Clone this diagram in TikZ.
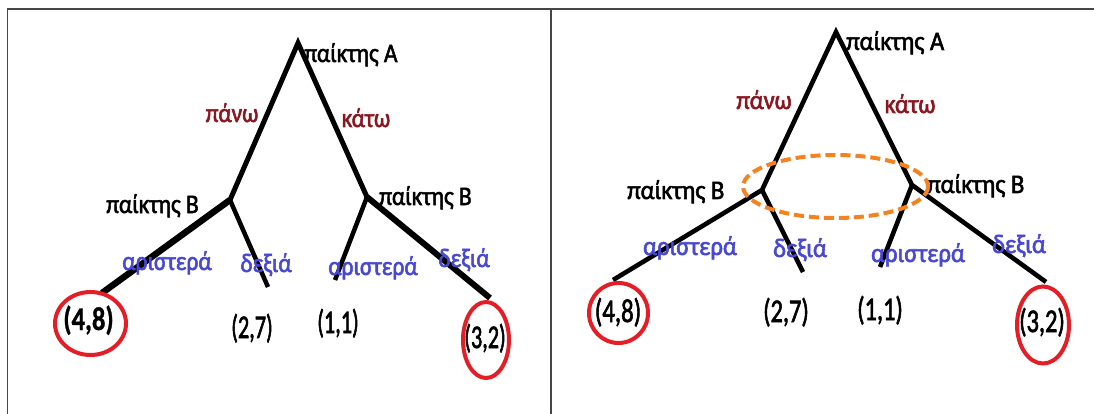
\documentclass[tikz,border=0pt]{standalone}
\usepackage{fontspec}
\setmainfont{Carlito}
\newfontfamily\lbl{Carlito}[FakeBold=2.2]
\newfontfamily\lblbold{Carlito Bold}[FakeBold=1]
\definecolor{movered}{RGB}{140,22,32}
\definecolor{moveblue}{RGB}{72,72,210}
\definecolor{ringred}{RGB}{228,30,38}
\definecolor{setorange}{RGB}{245,130,32}
\definecolor{framegray}{RGB}{70,70,70}
\tikzset{
  branch/.style={line width=5pt, black},
  txt/.style={inner sep=0pt, xscale=0.92, yscale=1.05, font=\fontsize{25.5}{25.5}\lbl},
  playerlbl/.style={txt, anchor=base west},
  toplbl/.style={txt, anchor=base, text=movered},
  botlbl/.style={txt, anchor=base, text=moveblue},
  payoff/.style={anchor=base, inner sep=0pt, xscale=0.74, yscale=1.1, font=\fontsize{30}{30}\lbl},
  ring/.style={draw=ringred, line width=4pt},
  infoset/.style={draw=setorange, line width=4pt, dash pattern=on 10pt off 5pt},
}
\begin{document}
\begin{tikzpicture}[x=1pt,y=-1pt]
\useasboundingbox (0,0) rectangle (1094,414);
% table frame
\draw[framegray, line width=1.8pt] (7.5,414) -- (7.5,9.3) -- (1094,9.3);
\draw[framegray, line width=1.8pt] (551,9.3) -- (551,414);

% ---------------- left tree ----------------
\coordinate (LA) at (298,43);
\coordinate (LB1) at (230,200);
\coordinate (LB2) at (367,197);
\coordinate (L11) at (102,293);
\coordinate (L12) at (268,287);
\coordinate (L21) at (335,280);
\coordinate (L22) at (490,298);
\draw[branch] (LB1) -- (LA) -- (LB2);
\draw[branch, line width=6.5pt] (LB1) -- (L11);
\draw[branch, line width=4.5pt] (LB1) -- (L12);
\draw[branch, line width=4.5pt] (LB2) -- (L21);
\draw[branch, line width=6pt] (LB2) -- (L22);

\node[playerlbl] (lpA) at (304,62) {παίκτης Α};
\node[playerlbl] (lpB1) at (106,213) {παίκτης Β};
\node[playerlbl] (lpB2) at (379,205) {παίκτης Β};
\node[toplbl] (lup) at (232,122) {πάνω};
\node[toplbl] (ldown) at (366,127) {κάτω};
\node[botlbl] (ll1) at (167,270) {αριστερά};
\node[botlbl] (lr1) at (266,272) {δεξιά};
\node[botlbl] (ll2) at (373,275) {αριστερά};
\node[botlbl] (lr2) at (464,267) {δεξιά};
\node[payoff, xscale=1.2, font=\fontsize{30}{30}\lblbold] (lp11) at (88.5,330) {(4,8)};
\node[payoff] (lp12) at (252,338) {(2,7)};
\node[payoff] (lp21) at (338,333) {(1,1)};
\node[payoff] (lp22) at (485,348) {(3,2)};
\draw[ring] (90.5,323.5) ellipse [x radius=35.5, y radius=31.5];
\draw[ring] (486,340) ellipse [x radius=23, y radius=38];

% ---------------- right tree ----------------
\coordinate (RA) at (836,32);
\coordinate (RB1) at (762,190);
\coordinate (RB2) at (912,185);
\coordinate (R11) at (613,280);
\coordinate (R12) at (803,272);
\coordinate (R21) at (880,267);
\coordinate (R22) at (1046,282);
\draw[branch, line width=4.6pt] (R11) -- (RB1) -- (RA) -- (RB2) -- (R22);
\draw[branch, line width=4.6pt] (RB1) -- (R12);
\draw[branch, line width=4.6pt] (RB2) -- (R21);

\node[playerlbl, xscale=1.05] (rpA) at (846,50) {παίκτης Α};
\node[playerlbl, xscale=1.05] (rpB1) at (627,199) {παίκτης Β};
\node[playerlbl, xscale=1.05] (rpB2) at (927,193) {παίκτης Β};
\node[toplbl, xscale=1.05] (rup) at (764,109) {πάνω};
\node[toplbl, xscale=1.05] (rdown) at (910,113) {κάτω};
\node[botlbl, xscale=1.05] (rl1) at (690,255) {αριστερά};
\node[botlbl, xscale=1.05] (rr1) at (800,257) {δεξιά};
\node[botlbl, xscale=1.05] (rl2) at (918,262) {αριστερά};
\node[botlbl, xscale=1.05] (rr2) at (1019,253) {δεξιά};
\node[payoff, xscale=1.12] (rp11) at (618,322) {(4,8)};
\node[payoff, xscale=1.1] (rp12) at (786,322) {(2,7)};
\node[payoff, xscale=1.1] (rp21) at (880,320) {(1,1)};
\node[payoff, xscale=1.1] (rp22) at (1042,332) {(3,2)};
\draw[ring] (618.5,313) ellipse [x radius=29.5, y radius=30];
\draw[ring] (1043,325) ellipse [x radius=26, y radius=38.5];

% information set of player B
\draw[infoset] (835.5,186.5) ellipse [x radius=92.5, y radius=31.5];
\end{tikzpicture}
\end{document}
